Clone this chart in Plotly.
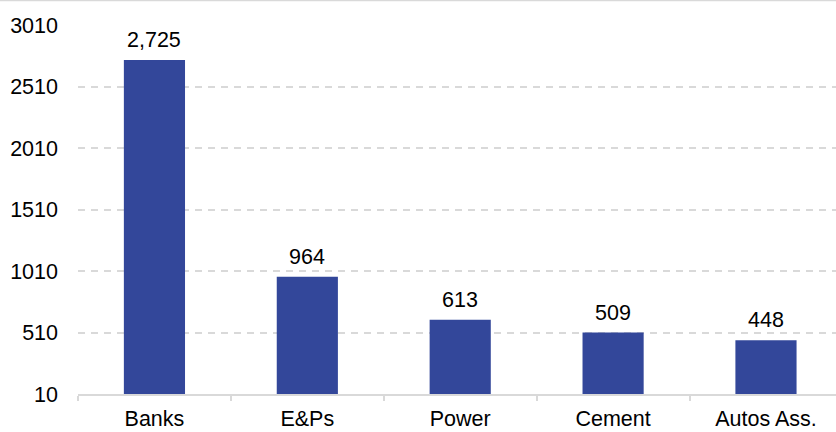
import plotly.graph_objects as go

categories = ["Banks", "E&Ps", "Power", "Cement", "Autos Ass."]
values = [2725, 964, 613, 509, 448]
y_ticks = [10, 510, 1010, 1510, 2010, 2510, 3010]

BAR_COLOR = "#33479A"
GRID = "#d9d9d9"
FONT = "Liberation Sans, Arial, sans-serif"
FS = 21.5

fig = go.Figure()
fig.add_trace(go.Bar(
    x=categories, y=values, base=0,
    marker=dict(color=BAR_COLOR, line=dict(width=0)),
    width=0.4,
    hoverinfo="skip",
))

for c, v in zip(categories, values):
    fig.add_annotation(
        x=c, y=v, text=f"{v:,}", showarrow=False,
        yanchor="bottom", yshift=6,
        font=dict(family=FONT, size=FS, color="#000000"),
    )

fig.add_shape(type="line", xref="paper", yref="paper",
              x0=-0.2, x1=1.2, y0=1.0665, y1=1.0665,
              line=dict(color=GRID, width=1.5))

fig.update_layout(
    width=836, height=432,
    margin=dict(l=77.5, r=0, t=25, b=38),
    paper_bgcolor="white", plot_bgcolor="white",
    showlegend=False,
    font=dict(family=FONT, size=FS, color="#000000"),
    bargap=0.6,
)
fig.update_xaxes(
    type="category", range=[-0.5, 4.458],
    tickson="boundaries", ticks="outside", ticklen=5, tickcolor=GRID, tickwidth=1.5,
    showline=True, linecolor=GRID, linewidth=1.5, ticklabelstandoff=4,
    showgrid=False, tickfont=dict(family=FONT, size=FS, color="#000000"),
)
fig.update_yaxes(
    range=[10, 3010], tickvals=y_ticks, ticktext=[str(t) for t in y_ticks],
    showgrid=True, gridcolor=GRID, gridwidth=1.5, griddash="7px,6px",
    zeroline=False, showline=False, ticks="", ticklabelstandoff=19,
    tickfont=dict(family=FONT, size=FS, color="#000000"),
)

fig.write_html("out.html")
